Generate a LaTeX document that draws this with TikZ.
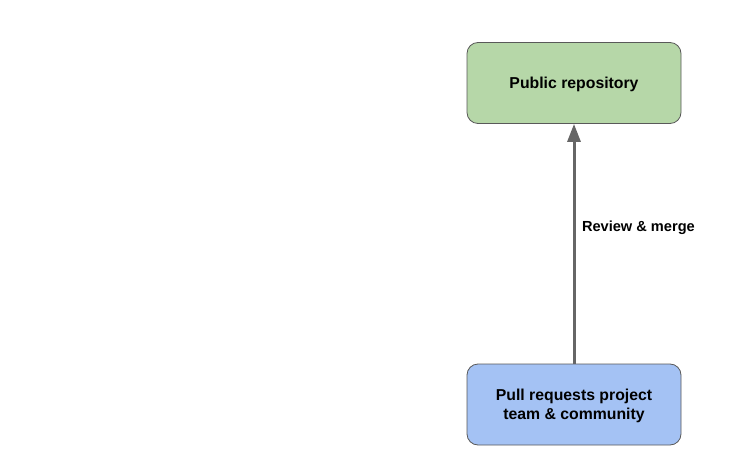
\documentclass[tikz,border=0pt]{standalone}
\usepackage{fontspec}
\setmainfont{Liberation Sans}
\usetikzlibrary{arrows.meta}
\definecolor{pubgreen}{HTML}{B6D7A8}
\definecolor{prblue}{HTML}{A4C2F4}
\definecolor{edgegray}{HTML}{595959}
\definecolor{arrowgray}{HTML}{666666}
\tikzset{
    box/.style={draw=edgegray, line width=0.8pt, rounded corners=11pt, minimum width=214pt, minimum height=81pt, align=center, text depth=0pt, font=\bfseries\fontsize{15.8}{18.5}\selectfont},
    link/.style={draw=arrowgray, line width=3pt, -{Triangle[length=18pt, width=13pt]}}
}
\begin{document}
\begin{tikzpicture}[x=1pt, y=1pt]
        \useasboundingbox (0, 0) rectangle (755, 453);
        \node[box, fill=pubgreen] (pub) at (574, 370) {Public repository};
        \node[box, fill=prblue] (pr) at (574, 48.5) {Pull requests project\\team \& community};

        \draw[link] (pr) -- (pub); \node[anchor=west, font=\bfseries\fontsize{14.6}{17}\selectfont] (review) at (578.5, 225) {Review \& merge};
    \end{tikzpicture}
\end{document}
